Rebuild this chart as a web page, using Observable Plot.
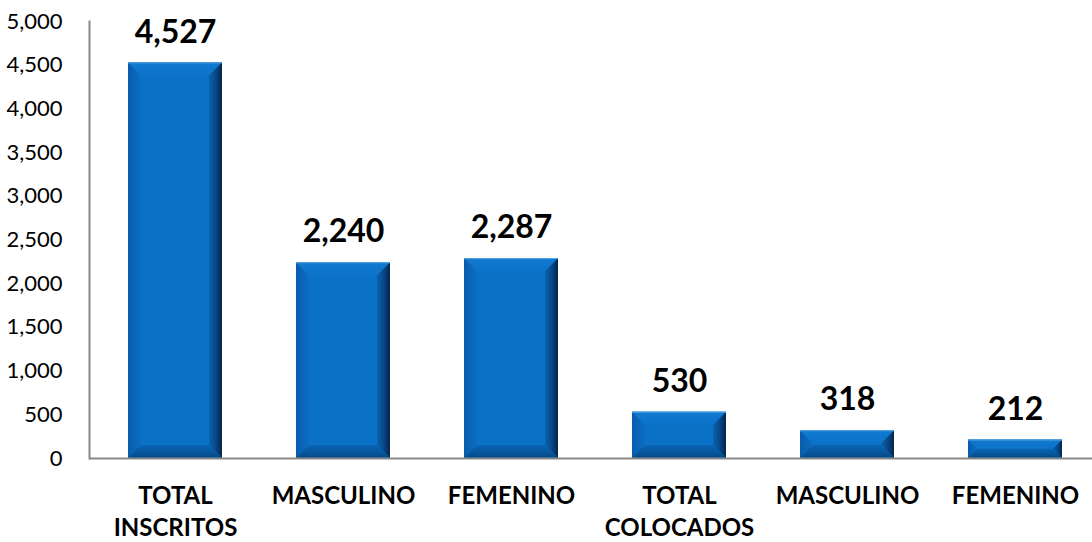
<!DOCTYPE html>
<html>
<head>
<meta charset="utf-8">
<script src="https://cdn.jsdelivr.net/npm/d3@7"></script>
<script src="https://cdn.jsdelivr.net/npm/@observablehq/plot@0.6"></script>
<style>
  html, body { margin: 0; padding: 0; background: #fff; }
  #chart { width: 1092px; height: 542px; overflow: hidden; }
  #chart svg { overflow: visible; }
</style>
</head>
<body>
<div id="chart"></div>
<script>
const categories = ["TOTAL\nINSCRITOS", "MASCULINO", "FEMENINO", "TOTAL\nCOLOCADOS", "MASCULINO", "FEMENINO"];
const values = [4527, 2240, 2287, 530, 318, 212];
const yTicks = [0, 500, 1000, 1500, 2000, 2500, 3000, 3500, 4000, 4500, 5000];

const data = categories.map((c, i) => ({i, label: c, value: values[i]}));
const fmt = d3.format(",");
const svgNS = "http://www.w3.org/2000/svg";

function bevel(index, scales, vals, dimensions, context, next) {
  const g = next(index, scales, vals, dimensions, context);
  const defs = document.createElementNS(svgNS, "defs");
  defs.innerHTML = `
    <linearGradient id="bvR" x1="0" x2="1" y1="0" y2="0"><stop offset="0" stop-color="#0a62ae"/><stop offset="0.5" stop-color="#08498a"/><stop offset="1" stop-color="#04254a"/></linearGradient>
    <linearGradient id="bvL" x1="0" x2="1" y1="0" y2="0"><stop offset="0" stop-color="#085caa"/><stop offset="1" stop-color="#0b6ec4"/></linearGradient>
    <linearGradient id="bvB" x1="0" x2="0" y1="0" y2="1"><stop offset="0" stop-color="#0964b4"/><stop offset="1" stop-color="#054b88"/></linearGradient>
    <linearGradient id="bvT" x1="0" x2="0" y1="0" y2="1"><stop offset="0" stop-color="#1179d0"/><stop offset="1" stop-color="#0c73ca"/></linearGradient>`;
  g.prepend(defs);
  for (const r of [...g.querySelectorAll("rect")]) {
    const x = +r.getAttribute("x"), y = +r.getAttribute("y");
    const w = +r.getAttribute("width"), h = +r.getAttribute("height");
    const b = Math.min(13, h / 2, w / 2);
    const polys = [
      ["url(#bvT)", [[x, y], [x + w, y], [x + w - b, y + b], [x + b, y + b]]],
      ["url(#bvB)", [[x, y + h], [x + b, y + h - b], [x + w - b, y + h - b], [x + w, y + h]]],
      ["url(#bvL)", [[x, y], [x + b, y + b], [x + b, y + h - b], [x, y + h]]],
      ["url(#bvR)", [[x + w, y], [x + w, y + h], [x + w - b, y + h - b], [x + w - b, y + b]]]
    ];
    for (const [fill, pts] of polys) {
      const p = document.createElementNS(svgNS, "polygon");
      p.setAttribute("points", pts.map(q => q.join(",")).join(" "));
      p.setAttribute("fill", fill);
      r.after(p);
    }
    const line = document.createElementNS(svgNS, "line");
    line.setAttribute("x1", x); line.setAttribute("x2", x + w);
    line.setAttribute("y1", y + 0.5); line.setAttribute("y2", y + 0.5);
    line.setAttribute("stroke", "#5aa6e4"); line.setAttribute("stroke-width", 1);
    g.append(line);
  }
  return g;
}

const chart = Plot.plot({
  width: 1092,
  height: 542,
  marginTop: 21,
  marginBottom: 84,
  marginLeft: 89,
  marginRight: 0,
  style: {fontFamily: "Lato, sans-serif", background: "#fff", overflow: "visible"},
  x: {domain: d3.range(categories.length), range: [89.5, 1100.5], paddingInner: 0.44, paddingOuter: 0.22, axis: null},
  y: {domain: [0, 5000], range: [458, 21], axis: null},
  marks: [
    Plot.barY(data, {x: "i", y: "value", fill: "#0b71c7", render: bevel}),
    Plot.axisY(yTicks, {
      tickSize: 0, tickPadding: 27, tickFormat: fmt,
      fontSize: 22, fill: "#000", label: null
    }),
    Plot.ruleY([0], {stroke: "#8a8a8a", strokeWidth: 2}),
    Plot.frame({anchor: "left", stroke: "#8a8a8a", strokeWidth: 2}),
    Plot.text(data, {
      x: "i", y: "value", text: d => fmt(d.value),
      lineAnchor: "top", dy: -43, fontSize: 32, fontWeight: "bold", fill: "#000"
    }),
    Plot.text(data, {
      x: "i", y: 0, text: "label",
      lineAnchor: "top", dy: 23, lineHeight: 1.33, fontSize: 24, fontWeight: "bold", fill: "#000"
    })
  ]
});
document.getElementById("chart").append(chart);
</script>
</body>
</html>
